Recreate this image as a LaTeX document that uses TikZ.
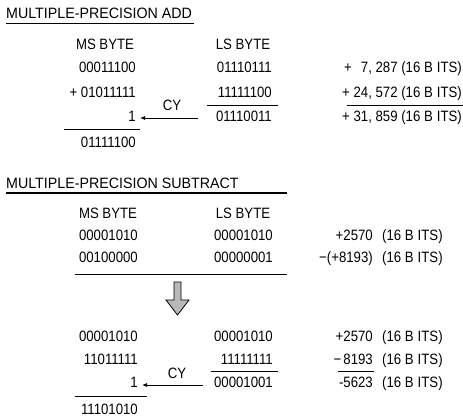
\documentclass[tikz,border=0pt]{standalone}
\usepackage{fontspec}
\setmainfont{Liberation Sans}[FakeStretch=0.88]
\newfontfamily\titlefont{Liberation Sans}[FakeStretch=0.95]
\usetikzlibrary{arrows.meta}
\newcommand{\bits}{(16 B\hspace{4pt}ITS)}
\begin{document}
\begin{tikzpicture}[x=1pt,y=-1pt,
  txt/.style={inner sep=0pt, font=\fontsize{15}{18}\selectfont},
  ttl/.style={inner sep=0pt, anchor=base west, font=\titlefont\fontsize{15}{18}\selectfont},
  re/.style={txt, anchor=base east},
  le/.style={txt, anchor=base west},
  ce/.style={txt, anchor=base},
  rule/.style={line width=1pt},
  titlerule/.style={line width=1.1pt},
  cyarrow/.style={line width=0.8pt, -{Latex[length=5pt,width=4pt]}, shorten >=4pt},
  bigarrow/.style={draw, line width=0.8pt, fill=gray!55}]
\useasboundingbox (0,0) rectangle (463,420);

% ---------------- ADD ----------------
\node[ttl] (tadd) at (6,18.5) {MULTIPLE-PRECISION ADD};
\draw[titlerule] (6,23.5) -- (194,23.5);

\node[ce] (msA) at (105,50) {MS BYTE};
\node[ce] (lsA) at (243,50) {LS BYTE};

\node[re] (a11) at (136,73) {00011100};
\node[re] (a12) at (272,73) {01110111};
\node[re] (a13) at (462,73) {+\hspace{9pt}7, 287 \bits};

\node[re] (a21) at (136,97) {+ 01011111};
\node[re] (a22) at (272,97) {11111100};
\node[re] (a23) at (462,97) {+ 24, 572 \bits};
\draw[rule] (207,105) -- (278,105);
\draw[rule] (347,105) -- (463,105);

\node[re] (oneA) at (136,121) {1};
\node[re] (a32) at (272,121) {01110011};
\node[re] (a33) at (462,121) {+ 31, 859 \bits};
\coordinate (cyA) at (198,118);
\draw[cyarrow] (cyA) -- (cyA -| oneA.east);
\node[ce] (cyLA) at (172,110) {CY};

\draw[rule] (64,129) -- (140,129);
\node[re] (a41) at (136,147) {01111100};

% ---------------- SUBTRACT ----------------
\node[ttl] (tsub) at (6,188) {MULTIPLE-PRECISION SUBTRACT};
\draw[titlerule] (6,193) -- (287,193);

\node[ce] (msS) at (108,218) {MS BYTE};
\node[ce] (lsS) at (243,218) {LS BYTE};

\node[re] (s11) at (138,240) {00001010};
\node[re] (s12) at (273,240) {00001010};
\node[re] (s13) at (373,240) {+2570};
\node[le] (s14) at (382,240) {\bits};

\node[re] (s21) at (138,262) {00100000};
\node[re] (s22) at (273,262) {00000001};
\node[re] (s23) at (373,262) {−(+8193)};
\node[le] (s24) at (382,262) {\bits};

\draw[rule] (75,274) -- (287,274);

\draw[bigarrow] (174,282) -- (181,282) -- (181,300) -- (189,300) -- (177.5,315)
  -- (166,300) -- (174,300) -- cycle;

\node[re] (t11) at (138,341) {00001010};
\node[re] (t12) at (273,341) {00001010};
\node[re] (t13) at (373,341) {+2570};
\node[le] (t14) at (382,341) {\bits};

\node[re] (t21) at (138,364) {11011111};
\node[re] (t22) at (273,364) {11111111};
\node[re] (t23) at (373,364) {−\hspace{2pt}8193};
\node[le] (t24) at (382,364) {\bits};
\draw[rule] (211,371) -- (278,371);
\draw[rule] (338,371) -- (374,371);

\node[re] (oneS) at (138,387) {1};
\node[re] (t32) at (273,387) {00001001};
\node[re] (t33) at (373,387) {-5623};
\node[le] (t34) at (382,387) {\bits};
\coordinate (cyS) at (203,385);
\draw[cyarrow] (cyS) -- (cyS -| oneS.east);
\node[ce] (cyLS) at (177,378) {CY};

\draw[rule] (75,396) -- (147,396);
\node[re] (t41) at (138,414) {11101010};
\end{tikzpicture}
\end{document}
